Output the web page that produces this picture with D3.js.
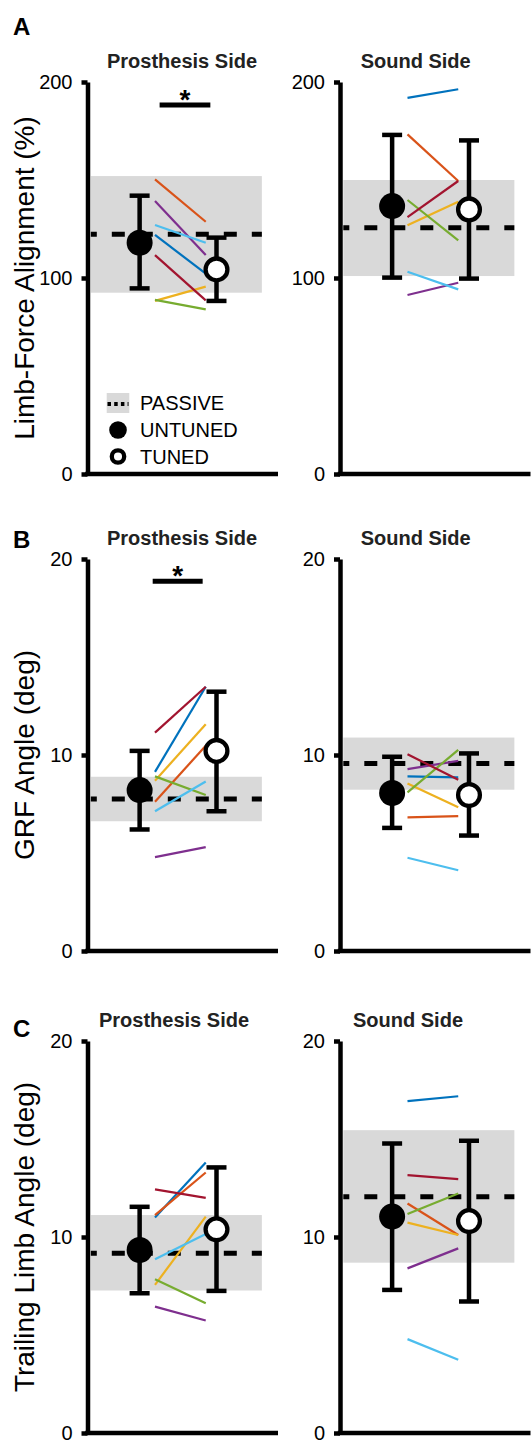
<!DOCTYPE html>
<html><head><meta charset="utf-8">
<script src="https://cdn.jsdelivr.net/npm/d3@7"></script>
<style>
body{margin:0;background:#fff}
svg{display:block}
text{font-family:"Liberation Sans",Arial,Helvetica,sans-serif}
</style>
</head><body>
<svg id="chart" width="531" height="1441"></svg>
<script>
// ---------- data ----------
const panelLetters = ["A", "B", "C"];
const yAxisLabels = ["Limb-Force Alignment (%)", "GRF Angle (deg)", "Trailing Limb Angle (deg)"];
const sideTitles = ["Prosthesis Side", "Sound Side"];
const legendLabels = ["PASSIVE", "UNTUNED", "TUNED"];
const subjectColors = ["#0072BD", "#D95319", "#EDB120", "#7E2F8E", "#77AC30", "#4DBEEE", "#A2142F"];
const ticksA = [0, 100, 200];
const ticksBC = [0, 10, 20];
const yMaxA = 200;
const yMaxBC = 20;

// Panel A – Limb-force alignment, prosthesis side
const aProsUntuned = [122, 150.3, 88.3, 139.3, 88.8, 127, 111.7];
const aProsTuned   = [102.2, 128.7, 95.6, 111.7, 84, 118, 88.6];
const aProsMean = [118, 104.4];
const aProsLow  = [94.7, 88.3];
const aProsHigh = [142, 120.6];
const aProsPassive = [122.3, 92.5, 152];   // mean, low, high
const aProsSig = [1.26, 1.92, 188.3];      // from, to, level

// Panel A – sound side
const aSoundUntuned = [191.9, 173.3, 126.9, 91.3, 139.8, 103.2, 131.1];
const aSoundTuned   = [196.3, 149.5, 138.9, 97.6, 119.2, 94.2, 149.5];
const aSoundMean = [136.7, 135];
const aSoundLow  = [100.2, 99.7];
const aSoundHigh = [173, 170.2];
const aSoundPassive = [125.7, 101, 150];

// Panel B – GRF angle, prosthesis side
const bProsUntuned = [9.14, 7.62, 8.69, 4.79, 8.91, 7.13, 11.14];
const bProsTuned   = [13.48, 10.47, 11.57, 5.3, 7.96, 8.65, 13.48];
const bProsMean = [8.21, 10.21];
const bProsLow  = [6.2, 7.13];
const bProsHigh = [10.21, 13.23];
const bProsPassive = [7.76, 6.62, 8.89];
const bProsSig = [1.17, 1.82, 18.86];

// Panel B – sound side
const bSoundUntuned = [8.91, 6.82, 8.55, 9.28, 8.09, 4.76, 10.04];
const bSoundTuned   = [8.86, 6.88, 7.33, 9.7, 10.26, 4.12, 8.74];
const bSoundMean = [8.06, 7.96];
const bSoundLow  = [6.28, 5.89];
const bSoundHigh = [9.91, 10.08];
const bSoundPassive = [9.57, 8.23, 10.89];

// Panel C – trailing limb angle, prosthesis side
const cProsUntuned = [11.0, 11.12, 7.56, 6.45, 7.84, 8.86, 12.43];
const cProsTuned   = [13.8, 13.29, 11.04, 5.74, 6.62, 10.15, 12.0];
const cProsMean = [9.34, 10.39];
const cProsLow  = [7.13, 7.25];
const cProsHigh = [11.54, 13.55];
const cProsPassive = [9.17, 7.27, 11.12];

// Panel C – sound side
const cSoundUntuned = [16.93, 11.71, 10.73, 8.4, 11.17, 4.79, 13.16];
const cSoundTuned   = [17.18, 10.1, 10.1, 9.42, 12.22, 3.74, 12.95];
const cSoundMean = [11.04, 10.81];
const cSoundLow  = [7.3, 6.71];
const cSoundHigh = [14.77, 14.91];
const cSoundPassive = [12.05, 8.69, 15.45];

// ---------- panel table ----------
const panels = [
  {row:0, side:0, u:aProsUntuned, t:aProsTuned, mean:aProsMean, low:aProsLow, high:aProsHigh, passive:aProsPassive, ticks:ticksA, yMax:yMaxA, sig:aProsSig, legend:true},
  {row:0, side:1, u:aSoundUntuned, t:aSoundTuned, mean:aSoundMean, low:aSoundLow, high:aSoundHigh, passive:aSoundPassive, ticks:ticksA, yMax:yMaxA},
  {row:1, side:0, u:bProsUntuned, t:bProsTuned, mean:bProsMean, low:bProsLow, high:bProsHigh, passive:bProsPassive, ticks:ticksBC, yMax:yMaxBC, sig:bProsSig},
  {row:1, side:1, u:bSoundUntuned, t:bSoundTuned, mean:bSoundMean, low:bSoundLow, high:bSoundHigh, passive:bSoundPassive, ticks:ticksBC, yMax:yMaxBC},
  {row:2, side:0, u:cProsUntuned, t:cProsTuned, mean:cProsMean, low:cProsLow, high:cProsHigh, passive:cProsPassive, ticks:ticksBC, yMax:yMaxBC},
  {row:2, side:1, u:cSoundUntuned, t:cSoundTuned, mean:cSoundMean, low:cSoundLow, high:cSoundHigh, passive:cSoundPassive, ticks:ticksBC, yMax:yMaxBC}
];

// ---------- layout ----------
const rowTop = [82, 559, 1041];
const plotH = 392;
const axisX = [87.5, 340];
const axisW = 190.5;
const xDom = [0.322, 2.8];
const bandX = [0.365, 2.59];
const lineX = [1.2, 1.86];
const titleDx = [[94.5, 75.7], [94.5, 75.7], [86.5, 68]];
const letterPos = [[13, 35], [13, 548], [13, 1037]];
const SW = 4.5;

const svg = d3.select("#chart");
svg.append("rect").attr("width", 531).attr("height", 1441).attr("fill", "#fff");

panels.forEach(p => {
  const top = rowTop[p.row], bottom = top + plotH;
  const ax = axisX[p.side];
  const x = d3.scaleLinear().domain(xDom).range([ax, ax + axisW]);
  const y = d3.scaleLinear().domain([0, p.yMax]).range([bottom, top]);
  const g = svg.append("g");

  // passive band
  g.append("rect")
    .attr("x", x(bandX[0])).attr("width", x(bandX[1]) - x(bandX[0]))
    .attr("y", y(p.passive[2])).attr("height", y(p.passive[1]) - y(p.passive[2]))
    .attr("fill", "#d9d9d9");
  // passive mean dashed line
  g.append("line")
    .attr("x1", x(bandX[0])).attr("x2", x(bandX[1]))
    .attr("y1", y(p.passive[0])).attr("y2", y(p.passive[0]))
    .attr("stroke", "#000").attr("stroke-width", 5)
    .attr("stroke-dasharray", "13,15").attr("stroke-dashoffset", 7);

  // subject lines
  g.selectAll(".subj").data(p.u.map((v, i) => ({a: v, b: p.t[i], c: subjectColors[i]})))
    .join("line")
    .attr("x1", x(lineX[0])).attr("x2", x(lineX[1]))
    .attr("y1", d => y(d.a)).attr("y2", d => y(d.b))
    .attr("stroke", d => d.c).attr("stroke-width", 2.2);

  // error bars
  [1, 2].forEach((cx, i) => {
    const xx = x(cx);
    g.append("line").attr("x1", xx).attr("x2", xx)
      .attr("y1", y(p.low[i])).attr("y2", y(p.high[i]))
      .attr("stroke", "#000").attr("stroke-width", SW);
    [p.low[i], p.high[i]].forEach(v => {
      g.append("line").attr("x1", xx - 10).attr("x2", xx + 10)
        .attr("y1", y(v)).attr("y2", y(v))
        .attr("stroke", "#000").attr("stroke-width", SW);
    });
  });
  // markers
  g.append("circle").attr("cx", x(1)).attr("cy", y(p.mean[0])).attr("r", 13).attr("fill", "#000");
  g.append("circle").attr("cx", x(2)).attr("cy", y(p.mean[1])).attr("r", 10.9)
    .attr("fill", "#fff").attr("stroke", "#000").attr("stroke-width", 4.3);

  // y axis
  const yAxis = d3.axisLeft(y).tickValues(p.ticks).tickSize(6).tickPadding(9).tickSizeOuter(0)
    .tickFormat(d3.format("d"));
  const ag = svg.append("g").attr("transform", `translate(${ax},0)`).call(yAxis);
  ag.select(".domain").attr("stroke", "#000").attr("stroke-width", SW);
  ag.selectAll(".tick line").attr("stroke", "#000").attr("stroke-width", SW);
  ag.selectAll(".tick text").attr("font-size", 20).attr("fill", "#000")
    .attr("font-family", '"Liberation Sans",Arial,sans-serif');
  // x axis line
  svg.append("line").attr("x1", ax - SW / 2).attr("x2", ax + axisW)
    .attr("y1", bottom).attr("y2", bottom)
    .attr("stroke", "#000").attr("stroke-width", SW);

  // title
  svg.append("text").attr("x", ax + titleDx[p.row][p.side]).attr("y", top - 14)
    .attr("text-anchor", "middle").attr("font-size", 20).attr("font-weight", "bold")
    .attr("fill", "#222").text(sideTitles[p.side]);

  // significance
  if (p.sig) {
    g.append("line").attr("x1", x(p.sig[0])).attr("x2", x(p.sig[1]))
      .attr("y1", y(p.sig[2])).attr("y2", y(p.sig[2]))
      .attr("stroke", "#000").attr("stroke-width", 5);
    g.append("text").attr("x", (x(p.sig[0]) + x(p.sig[1])) / 2).attr("y", y(p.sig[2]) + 4)
      .attr("text-anchor", "middle").attr("font-size", 28).attr("font-weight", "bold")
      .text("*");
  }

  // left column: y label + letter
  if (p.side === 0) {
    svg.append("text")
      .attr("transform", `translate(34,${(top + bottom) / 2}) rotate(-90)`)
      .attr("text-anchor", "middle").attr("font-size", 28).attr("fill", "#000")
      .text(yAxisLabels[p.row]);
    svg.append("text").attr("x", letterPos[p.row][0]).attr("y", letterPos[p.row][1])
      .attr("font-size", 24).attr("font-weight", "bold").text(panelLetters[p.row]);
  }

  // legend
  if (p.legend) {
    const lx = 118, ly = [403, 430, 456.5];
    const lg = svg.append("g");
    lg.append("rect").attr("x", lx - 11.3).attr("y", ly[0] - 10).attr("width", 22.6).attr("height", 20).attr("fill", "#d9d9d9");
    lg.append("line").attr("x1", lx - 10.5).attr("x2", lx + 10.5).attr("y1", ly[0] + 1).attr("y2", ly[0] + 1)
      .attr("stroke", "#000").attr("stroke-width", 4).attr("stroke-dasharray", "3.5,3.2");
    lg.append("circle").attr("cx", lx).attr("cy", ly[1]).attr("r", 8.8).attr("fill", "#000");
    lg.append("circle").attr("cx", lx).attr("cy", ly[2]).attr("r", 6.2).attr("fill", "#fff")
      .attr("stroke", "#000").attr("stroke-width", 4.3);
    lg.selectAll(".lt").data(legendLabels).join("text")
      .attr("x", 140).attr("y", (d, i) => ly[i]).attr("dy", "0.36em")
      .attr("font-size", 20).attr("fill", "#000").text(d => d);
  }
});
</script>
</body></html>
